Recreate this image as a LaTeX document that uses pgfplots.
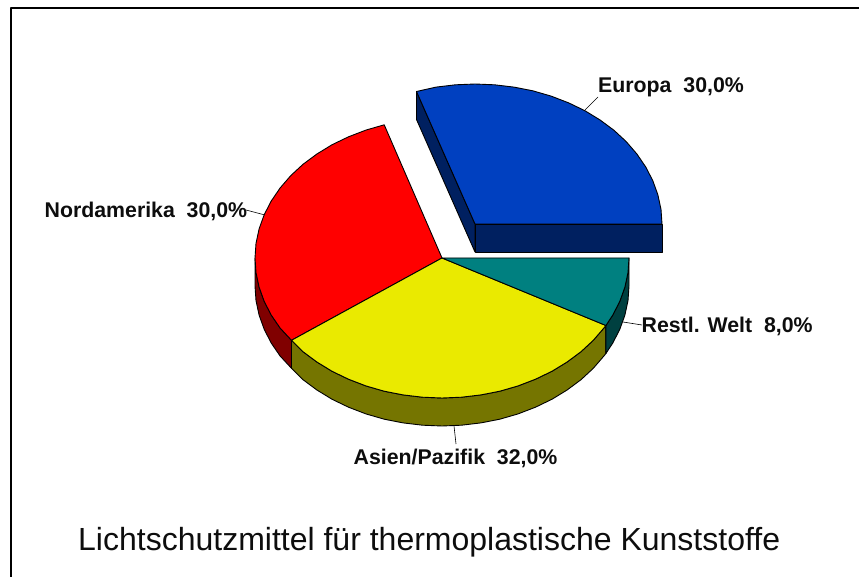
\documentclass[border=0pt]{standalone}
\usepackage{pgfplots}
\pgfplotsset{compat=1.18}
\usepackage{fontspec}
\setmainfont{Liberation Sans}

\definecolor{euTop}{RGB}{0,64,192}
\definecolor{euSide}{RGB}{0,32,96}
\definecolor{naTop}{RGB}{255,0,0}
\definecolor{naSide}{RGB}{128,0,0}
\definecolor{asTop}{RGB}{234,234,0}
\definecolor{asSide}{RGB}{117,117,0}
\definecolor{rwTop}{RGB}{0,128,128}
\definecolor{rwSide}{RGB}{0,64,64}
\tikzset{lab/.style={font=\fontsize{21.3}{21.3}\selectfont\bfseries, anchor=base west, inner sep=0pt, text=black!95}}

\begin{document}
\begin{tikzpicture}
\begin{axis}[
  width=859pt, height=577pt, scale only axis,
  xmin=0, xmax=859, ymin=0, ymax=577, y dir=reverse,
  hide axis, clip=true,
  every axis plot/.append style={line width=0.9pt, line join=round, draw=black, mark=none}]

% keeps the page at full size, hide axis drops the box otherwise
\path (axis cs:0,0) rectangle (axis cs:859,577);

% frame (only top and left are in the picture)
\addplot[line width=2pt, line cap=rect, draw=black] coordinates {(11,577) (11,8) (859,8)};

% side walls, main pie
\addplot[fill=naSide] coordinates {(255,258) (256,272.6) (259.1,287.1) (264.2,301.3) (271.2,315) (280.1,328) (291.5,340.3)
  (291.5,368.3) (280.1,356) (271.2,343) (264.2,329.3) (259.1,315.1) (256,300.6) (255,286) (255,258)};
\addplot[fill=asSide] coordinates {(291.5,340.3) (303,351.7) (316.9,362) (332.1,371.3) (348.5,379.2) (365.9,385.9) (384.2,391.2)
  (403.1,394.9) (422.5,397.2) (442,398) (461.5,397.2) (480.9,394.9) (499.8,391.2) (518.1,385.9) (535.5,379.2) (551.9,371.3)
  (567.1,362) (581,351.7) (593.3,340.3) (603.9,328) (605.9,325.5)
  (605.9,353.5) (603.9,356) (593.3,368.3) (581,379.7) (567.1,390) (551.9,399.3) (535.5,407.2) (518.1,413.9) (499.8,419.2)
  (480.9,422.9) (461.5,425.2) (442,426) (422.5,425.2) (403.1,422.9) (384.2,419.2) (365.9,413.9) (348.5,407.2) (332.1,399.3)
  (316.9,390) (303,379.7) (291.5,368.3) (291.5,340.3)};
\addplot[fill=rwSide] coordinates {(605.9,325.5) (612.8,315) (619.8,301.3) (624.9,287.1) (628,272.6) (629,258)
  (629,286) (628,300.6) (624.9,315.1) (619.8,329.3) (612.8,343) (605.9,353.5) (605.9,325.5)};

% top faces, main pie
\addplot[fill=naTop] coordinates {(442,258) (384.2,124.8) (365.9,130.1) (348.5,136.8) (332.1,144.7) (316.9,154) (303,164.3)
  (290.7,175.7) (280.1,188) (271.2,201.1) (264.2,214.7) (259.1,228.9) (256,243.4) (255,258) (256,272.6) (259.1,287.1)
  (264.2,301.3) (271.2,315) (280.1,328) (291.5,340.3) (442,258)};
\addplot[fill=asTop] coordinates {(442,258) (291.5,340.3) (303,351.7) (316.9,362) (332.1,371.3) (348.5,379.2) (365.9,385.9)
  (384.2,391.2) (403.1,394.9) (422.5,397.2) (442,398) (461.5,397.2) (480.9,394.9) (499.8,391.2) (518.1,385.9) (535.5,379.2)
  (551.9,371.3) (567.1,362) (581,351.7) (593.3,340.3) (603.9,328) (605.9,325.5) (442,258)};
\addplot[fill=rwTop] coordinates {(442,258) (605.9,325.5) (612.8,315) (619.8,301.3) (624.9,287.1) (628,272.6) (629,258) (442,258)};

% Europa, pulled out of the pie
\addplot[fill=euSide] coordinates {(475,224) (416.5,91.5) (416.5,119.5) (475,252) (475,224)};
\addplot[fill=euSide] coordinates {(475,224) (662,224) (662,252) (475,252) (475,224)};
\addplot[fill=euTop] coordinates {(475,224) (662,224) (661,209.4) (657.9,194.9) (652.8,180.7) (645.8,167.1) (636.9,154)
  (626.3,141.7) (614,130.3) (600.1,120) (584.9,110.7) (568.5,102.8) (551.1,96.1) (532.8,90.8) (513.9,87.1) (494.5,84.8)
  (475,84) (455.5,84.8) (436.1,87.1) (416.5,91.5) (475,224)};

% leader lines
\addplot[line width=0.6pt] coordinates {(598,97) (585,110)};
\addplot[line width=0.6pt] coordinates {(246,210) (265,215)};
\addplot[line width=0.6pt] coordinates {(623,322) (642,325)};
\addplot[line width=0.6pt] coordinates {(454,426) (456,444)};

\node[lab] at (axis cs:598,93) {Europa\ \ 30,0\%};
\node[lab] at (axis cs:44.5,218) {Nordamerika\ \ 30,0\%};
\node[lab] at (axis cs:641.5,332) {Restl. Welt\ \ 8,0\%};
\node[lab] at (axis cs:353.5,464) {Asien/Pazifik\ \ 32,0\%};
\node[font=\fontsize{32}{32}\selectfont, anchor=base west, inner sep=0pt, text=black!95] at (axis cs:78,550)
  {Lichtschutzmittel für thermoplastische Kunststoffe};
\end{axis}
\end{tikzpicture}
\end{document}
